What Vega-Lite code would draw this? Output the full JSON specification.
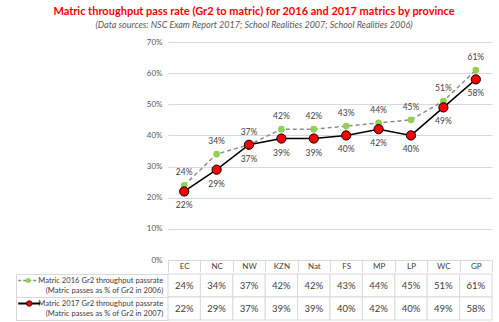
{
  "$schema": "https://vega.github.io/schema/vega-lite/v6.json",
  "padding": {"left": 15, "top": 6, "right": 8, "bottom": 2},
  "background": "white",
  "title": {
    "text": "Matric throughput pass rate (Gr2 to matric) for 2016 and 2017 matrics by province",
    "subtitle": "(Data sources: NSC Exam Report 2017; School Realities 2007; School Realities 2006)",
    "color": "#FF0000",
    "font": "Lato",
    "fontSize": 11,
    "fontWeight": "bold",
    "subtitleFont": "Lato",
    "subtitleFontSize": 9,
    "subtitleFontStyle": "italic",
    "subtitleColor": "#595959",
    "subtitlePadding": 4,
    "offset": 8,
    "anchor": "middle"
  },
  "datasets": {
    "rates": [
      {"province": "EC", "series": "2016", "value": 0.24},
      {"province": "NC", "series": "2016", "value": 0.34},
      {"province": "NW", "series": "2016", "value": 0.37},
      {"province": "KZN", "series": "2016", "value": 0.42},
      {"province": "Nat", "series": "2016", "value": 0.42},
      {"province": "FS", "series": "2016", "value": 0.43},
      {"province": "MP", "series": "2016", "value": 0.44},
      {"province": "LP", "series": "2016", "value": 0.45},
      {"province": "WC", "series": "2016", "value": 0.51},
      {"province": "GP", "series": "2016", "value": 0.61},
      {"province": "EC", "series": "2017", "value": 0.22},
      {"province": "NC", "series": "2017", "value": 0.29},
      {"province": "NW", "series": "2017", "value": 0.37},
      {"province": "KZN", "series": "2017", "value": 0.39},
      {"province": "Nat", "series": "2017", "value": 0.39},
      {"province": "FS", "series": "2017", "value": 0.40},
      {"province": "MP", "series": "2017", "value": 0.42},
      {"province": "LP", "series": "2017", "value": 0.40},
      {"province": "WC", "series": "2017", "value": 0.49},
      {"province": "GP", "series": "2017", "value": 0.58}
    ],
    "series": [
      {"series": "2016", "label": "Matric 2016 Gr2 throughput passrate\n(Matric passes as % of Gr2 in 2006)"},
      {"series": "2017", "label": "Matric 2017 Gr2 throughput passrate\n(Matric passes as % of Gr2 in 2007)"}
    ]
  },
  "spacing": 0,
  "vconcat": [
    {
      "width": 324,
      "height": 218,
      "data": {"name": "rates"},
      "encoding": {
        "x": {
          "field": "province",
          "type": "nominal",
          "scale": {"type": "band", "domain": ["EC", "NC", "NW", "KZN", "Nat", "FS", "MP", "LP", "WC", "GP"], "paddingInner": 0, "paddingOuter": 0},
          "axis": {
            "title": null,
            "labelAngle": 0,
            "labelFont": "Lato",
            "labelFontSize": 8,
            "labelColor": "#404040",
            "labelPadding": -10,
            "tickBand": "extent",
            "tickSize": 12,
            "tickColor": "#d9d9d9",
            "domainColor": "#d9d9d9",
            "grid": false
          }
        },
        "y": {
          "field": "value",
          "type": "quantitative",
          "scale": {"domain": [0, 0.7], "nice": false},
          "axis": {
            "title": null,
            "values": [0, 0.1, 0.2, 0.3, 0.4, 0.5, 0.6, 0.7],
            "format": ".0%",
            "domain": false,
            "ticks": false,
            "labelPadding": 6,
            "labelFont": "Lato",
            "labelFontSize": 8,
            "labelColor": "#595959",
            "gridColor": "#d9d9d9",
            "gridWidth": 1
          }
        }
      },
      "layer": [
        {
          "transform": [{"filter": "datum.series === '2016'"}],
          "mark": {"type": "line", "color": "#8c8c8c", "strokeDash": [4, 3], "strokeWidth": 1.5}
        },
        {
          "transform": [{"filter": "datum.series === '2017'"}],
          "mark": {"type": "line", "color": "#000000", "strokeWidth": 1.5}
        },
        {
          "transform": [{"filter": "datum.series === '2016'"}],
          "mark": {"type": "circle", "size": 45, "color": "#92D050", "opacity": 1}
        },
        {
          "transform": [{"filter": "datum.series === '2017'"}],
          "mark": {"type": "circle", "size": 85, "fill": "#FF0000", "stroke": "#000000", "strokeWidth": 1, "opacity": 1}
        },
        {
          "transform": [{"filter": "datum.series === '2016'"}],
          "mark": {"type": "text", "dy": -13, "font": "Lato", "fontSize": 8.5, "color": "#404040"},
          "encoding": {"text": {"field": "value", "type": "quantitative", "format": ".0%"}}
        },
        {
          "transform": [{"filter": "datum.series === '2017'"}],
          "mark": {"type": "text", "dy": 14, "font": "Lato", "fontSize": 8.5, "color": "#404040"},
          "encoding": {"text": {"field": "value", "type": "quantitative", "format": ".0%"}}
        }
      ]
    },
    {
      "width": 324,
      "height": 46,
      "layer": [
        {
          "data": {"name": "rates"},
          "mark": {"type": "rect", "fill": "white", "stroke": "#d9d9d9", "strokeWidth": 1},
          "encoding": {
            "x": {
              "field": "province",
              "type": "nominal",
              "scale": {"type": "band", "domain": ["EC", "NC", "NW", "KZN", "Nat", "FS", "MP", "LP", "WC", "GP"], "paddingInner": 0, "paddingOuter": 0},
              "axis": null
            },
            "y": {
              "field": "series",
              "type": "nominal",
              "scale": {"domain": ["2016", "2017"], "paddingInner": 0, "paddingOuter": 0},
              "axis": {
                "title": null,
                "orient": "left",
                "offset": 152,
                "domain": true,
                "domainColor": "#d9d9d9",
                "ticks": true,
                "tickBand": "extent",
                "tickSize": -152,
                "tickColor": "#d9d9d9",
                "labels": false,
                "grid": false
              }
            }
          }
        },
        {
          "data": {"name": "rates"},
          "mark": {"type": "text", "font": "Lato", "fontSize": 9.5, "color": "#404040"},
          "encoding": {
            "x": {"field": "province", "type": "nominal"},
            "y": {"field": "series", "type": "nominal"},
            "text": {"field": "value", "type": "quantitative", "format": ".0%"}
          }
        },
        {
          "data": {"name": "series"},
          "mark": {"type": "text", "align": "right", "baseline": "middle", "lineBreak": "\n", "lineHeight": 10, "font": "Lato", "fontSize": 7.6, "color": "#404040", "xOffset": -21, "yOffset": -5},
          "encoding": {
            "x": {"datum": "EC", "type": "nominal"},
            "y": {"field": "series", "type": "nominal"},
            "text": {"field": "label", "type": "nominal"}
          }
        },
        {
          "data": {"name": "series"},
          "transform": [{"filter": "datum.series === '2016'"}],
          "mark": {"type": "rule", "color": "#8c8c8c", "strokeDash": [3, 2], "strokeWidth": 1.5, "xOffset": -166, "x2Offset": -146, "yOffset": -5},
          "encoding": {
            "x": {"datum": "EC", "type": "nominal"},
            "x2": {"datum": "EC"},
            "y": {"field": "series", "type": "nominal"}
          }
        },
        {
          "data": {"name": "series"},
          "transform": [{"filter": "datum.series === '2017'"}],
          "mark": {"type": "rule", "color": "#000000", "strokeWidth": 2, "xOffset": -166, "x2Offset": -144, "yOffset": -5},
          "encoding": {
            "x": {"datum": "EC", "type": "nominal"},
            "x2": {"datum": "EC"},
            "y": {"field": "series", "type": "nominal"}
          }
        },
        {
          "data": {"name": "series"},
          "transform": [{"filter": "datum.series === '2016'"}],
          "mark": {"type": "circle", "size": 25, "color": "#92D050", "opacity": 1, "xOffset": -156, "yOffset": -5},
          "encoding": {
            "x": {"datum": "EC", "type": "nominal"},
            "y": {"field": "series", "type": "nominal"}
          }
        },
        {
          "data": {"name": "series"},
          "transform": [{"filter": "datum.series === '2017'"}],
          "mark": {"type": "circle", "size": 30, "fill": "#FF0000", "stroke": "#000000", "strokeWidth": 0.8, "opacity": 1, "xOffset": -155, "yOffset": -5},
          "encoding": {
            "x": {"datum": "EC", "type": "nominal"},
            "y": {"field": "series", "type": "nominal"}
          }
        }
      ]
    }
  ],
  "config": {"view": {"stroke": null}, "font": "Lato"}
}
